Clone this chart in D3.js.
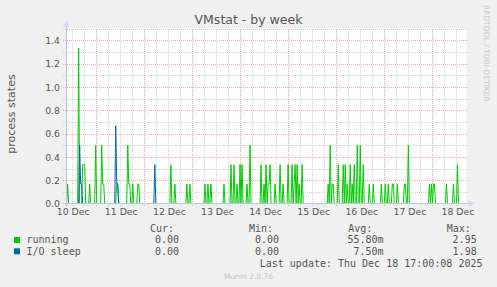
<!DOCTYPE html>
<html><head><meta charset="utf-8">
<script src="https://cdn.jsdelivr.net/npm/d3@7"></script>
<style>
html,body{margin:0;padding:0;background:#F0F0F0;}
svg{display:block;}
</style>
</head><body>
<script>
// ---- data (30-minute averages; only non-zero samples listed, all others are 0) ----
const chartTitle = "VMstat - by week";
const yAxisLabel = "process states";
const yTicks = [0.0, 0.2, 0.4, 0.6, 0.8, 1.0, 1.2, 1.4];
const dayLabels = ["10 Dec","11 Dec","12 Dec","13 Dec","14 Dec","15 Dec","16 Dec","17 Dec","18 Dec"];
const rangeStart = "2025-12-10T09:11:00Z";
const rangeEnd = "2025-12-18T17:00:00Z";

const runningTimes = [
 "2025-12-10T10:00","2025-12-10T15:30","2025-12-10T17:30","2025-12-10T18:00","2025-12-10T18:30","2025-12-10T21:00",
 "2025-12-11T00:00","2025-12-11T03:00","2025-12-11T03:30","2025-12-11T04:00","2025-12-11T10:30","2025-12-11T11:00",
 "2025-12-11T16:00","2025-12-11T16:30","2025-12-11T17:00","2025-12-11T18:30","2025-12-11T21:00","2025-12-11T21:30",
 "2025-12-12T13:30","2025-12-12T15:30","2025-12-12T21:30","2025-12-12T23:00",
 "2025-12-13T06:30","2025-12-13T08:00","2025-12-13T09:30","2025-12-13T16:00","2025-12-13T19:30","2025-12-13T21:00",
 "2025-12-13T22:30","2025-12-14T00:00","2025-12-14T01:00","2025-12-14T03:30","2025-12-14T05:00",
 "2025-12-14T10:30","2025-12-14T12:00","2025-12-14T13:00","2025-12-14T14:00","2025-12-14T14:30","2025-12-14T15:00",
 "2025-12-14T17:30","2025-12-14T20:00","2025-12-14T21:30","2025-12-15T00:00","2025-12-15T02:00","2025-12-15T03:00",
 "2025-12-15T03:30","2025-12-15T04:30","2025-12-15T05:30","2025-12-15T07:00",
 "2025-12-15T20:00","2025-12-15T21:00","2025-12-15T22:00","2025-12-15T22:30",
 "2025-12-16T01:00","2025-12-16T03:30","2025-12-16T04:30","2025-12-16T05:30","2025-12-16T07:00","2025-12-16T08:00",
 "2025-12-16T09:00","2025-12-16T10:30","2025-12-16T12:00","2025-12-16T13:30","2025-12-16T16:30","2025-12-16T18:30",
 "2025-12-16T22:30","2025-12-17T00:30","2025-12-17T02:00","2025-12-17T04:00","2025-12-17T04:30","2025-12-17T06:30",
 "2025-12-17T10:00","2025-12-17T10:30","2025-12-17T12:00",
 "2025-12-17T22:30","2025-12-17T23:30","2025-12-18T00:30","2025-12-18T01:00","2025-12-18T07:00","2025-12-18T10:30","2025-12-18T12:30"
];
const runningValues = [
 0.167,1.333,0.333,0.333,0.333,0.167,
 0.5,0.5,0.167,0.167,0.167,0.167,
 0.5,0.167,0.167,0.167,0.167,0.167,
 0.333,0.167,0.167,0.167,
 0.167,0.167,0.167,0.167,0.333,0.333,
 0.167,0.333,0.333,0.167,0.5,
 0.333,0.167,0.333,0.167,0.167,0.333,
 0.167,0.333,0.167,0.333,0.333,0.167,
 0.333,0.333,0.167,0.333,
 0.167,0.5,0.167,0.167,
 0.333,0.333,0.333,0.167,0.333,0.167,
 0.333,0.5,0.5,0.333,0.167,0.167,
 0.167,0.167,0.167,0.167,0.167,0.167,
 0.167,0.167,0.5,
 0.167,0.167,0.167,0.167,0.167,0.167,0.333
];
const ioTimes = ["2025-12-10T16:00","2025-12-10T16:30","2025-12-10T17:00","2025-12-11T10:00","2025-12-11T10:30","2025-12-11T11:00","2025-12-12T05:30"];
const ioValues = [0.5,0.167,0.167,0.667,0.167,0.167,0.333];

const legendNames = ["running","I/O sleep"];
const legendColors = ["#00CC00","#0066B3"];
const legendCur = ["0.00","0.00"];
const legendMin = ["0.00","0.00"];
const legendAvg = ["55.80m","7.50m"];
const legendMax = ["2.95","1.98"];
const lastUpdate = "Last update: Thu Dec 18 17:00:08 2025";
const footer = "Munin 2.0.76";
const sideText = "RRDTOOL / TOBI OETIKER";

// ---- build series: one sample per 30 minutes, zero where no activity was drawn ----
const t0 = new Date(rangeStart), t1 = new Date(rangeEnd);
function buildSeries(times, values){
  const m = new Map(times.map((t,i)=>[new Date(t+":00Z").getTime(), values[i]]));
  const slots = d3.utcMinute.every(30).range(d3.utcMinute.every(30).ceil(t0), new Date(+t1+1));
  return slots.map(d=>({t:d, v: m.has(+d) ? m.get(+d) : 0}));
}
const running = buildSeries(runningTimes, runningValues);
const ioSleep = buildSeries(ioTimes, ioValues);

// ---- drawing ----
const W=497, H=287;
const PL=66, PR=466.5, PT=28.5, PB=203.5;
const svg = d3.select("body").append("svg").attr("width",W).attr("height",H);
svg.append("rect").attr("width",W).attr("height",H).attr("fill","#F0F0F0");

const x = d3.scaleUtc().domain([t0,t1]).range([PL,PR]);
const y = d3.scaleLinear().domain([0,1.5]).range([PB,PT]);

svg.append("rect").attr("x",PL).attr("y",PT).attr("width",PR-PL).attr("height",PB-PT).attr("fill","#FFFFFF");

const grid = svg.append("g").attr("shape-rendering","crispEdges");
// horizontal grid
d3.range(1,16).forEach(i=>{
  const v=i/10, major = i%2===0;
  const yy = Math.round(y(v))+0.5;
  grid.append("line").attr("x1",PL-3).attr("x2",PR+2).attr("y1",yy).attr("y2",yy)
    .attr("stroke", major ? "#F0A8A8" : "#D4D4D4").attr("stroke-dasharray","1,1");
});
// vertical grid
d3.utcHour.every(6).range(t0,t1).forEach(d=>{
  const major = d.getUTCHours()===0;
  const xx = Math.round(x(d))+0.5;
  grid.append("line").attr("x1",xx).attr("x2",xx).attr("y1",PT).attr("y2",PB+3)
    .attr("stroke", major ? "#F0A8A8" : "#D4D4D4").attr("stroke-dasharray","1,1");
});

// series lines
const line = d3.line().x(d=>x(d.t)).y(d=>y(d.v));
svg.append("path").datum(running).attr("d",line).attr("fill","none").attr("stroke",legendColors[0]).attr("stroke-width",1);
svg.append("path").datum(ioSleep).attr("d",line).attr("fill","none").attr("stroke",legendColors[1]).attr("stroke-width",1);

// axes lines and arrows
const axCol = "#B8C4F0";
svg.append("line").attr("x1",PL+0.5).attr("x2",PL+0.5).attr("y1",PB+3).attr("y2",PT-4).attr("stroke",axCol).attr("shape-rendering","crispEdges");
svg.append("line").attr("x1",PL-3).attr("x2",PR+4).attr("y1",PB).attr("y2",PB).attr("stroke",axCol).attr("shape-rendering","crispEdges");
svg.append("path").attr("d",`M${PL-2.5},${PT-2}L${PL+3.5},${PT-2}L${PL+0.5},${PT-8}Z`).attr("fill","#CFD6F8");
svg.append("path").attr("d",`M${PR+2},${PB-3}L${PR+2},${PB+3}L${PR+8},${PB}Z`).attr("fill","#CFD6F8");

const fontCol = "#555555";
// y axis labels via d3 axis
const yAxis = d3.axisLeft(y).tickValues(yTicks).tickFormat(d3.format(".1f")).tickSize(0).tickPadding(0);
const yg = svg.append("g").attr("transform",`translate(${60},0)`).call(yAxis);
yg.select(".domain").remove();
yg.selectAll("text").attr("font-family","DejaVu Sans").attr("font-size","9.3px").attr("fill",fontCol).attr("dy","0.36em");

// x axis labels at noon of each day
const noonTicks = dayLabels.map((s,i)=>new Date(Date.UTC(2025,11,10+i,12)));
const xAxis = d3.axisBottom(x).tickValues(noonTicks).tickFormat((d,i)=>dayLabels[i]).tickSize(0).tickPadding(0);
const xg = svg.append("g").attr("transform",`translate(1,${208})`).call(xAxis);
xg.select(".domain").remove();
xg.selectAll("text").attr("font-family","DejaVu Sans").attr("font-size","9.3px").attr("fill",fontCol).attr("dy","0.75em");

// title
svg.append("text").attr("x",248.5).attr("y",24).attr("text-anchor","middle")
  .attr("font-family","DejaVu Sans").attr("font-size","12.5px").attr("fill",fontCol).text(chartTitle);
// y label
svg.append("text").attr("transform","translate(15,114) rotate(-90)").attr("text-anchor","middle")
  .attr("font-family","DejaVu Sans").attr("font-size","11px").attr("fill",fontCol).text(yAxisLabel);
// side text
svg.append("text").attr("transform","translate(484,5) rotate(90)").attr("text-anchor","start")
  .attr("font-family","DejaVu Sans").attr("font-size","7.5px").attr("fill","#C8C8C8").text(sideText);

// legend
const mono = "DejaVu Sans Mono";
const lg = svg.append("g").attr("font-family",mono).attr("font-size","10px").attr("fill",fontCol);
[["Cur:",150],["Min:",249],["Avg:",348.3],["Max:",446.7]].forEach(([s,xx])=>{
  lg.append("text").attr("x",xx).attr("y",232.3).text(s);
});
const rowY = [243.3,254.6];
legendNames.forEach((n,i)=>{
  svg.append("rect").attr("x",14).attr("y",rowY[i]-6.3).attr("width",6).attr("height",6).attr("fill",legendColors[i]);
  lg.append("text").attr("x",26.5).attr("y",rowY[i]).text(n);
  lg.append("text").attr("x",179).attr("y",rowY[i]).attr("text-anchor","end").text(legendCur[i]);
  lg.append("text").attr("x",279).attr("y",rowY[i]).attr("text-anchor","end").text(legendMin[i]);
  lg.append("text").attr("x",383.5).attr("y",rowY[i]).attr("text-anchor","end").text(legendAvg[i]);
  lg.append("text").attr("x",476.7).attr("y",rowY[i]).attr("text-anchor","end").text(legendMax[i]);
});
lg.append("text").attr("x",482.5).attr("y",266.6).attr("text-anchor","end").text(lastUpdate);
svg.append("text").attr("x",248.5).attr("y",279).attr("text-anchor","middle")
  .attr("font-family","DejaVu Sans").attr("font-size","7.5px").attr("fill","#C4C4C4").text(footer);
</script>
</body></html>
